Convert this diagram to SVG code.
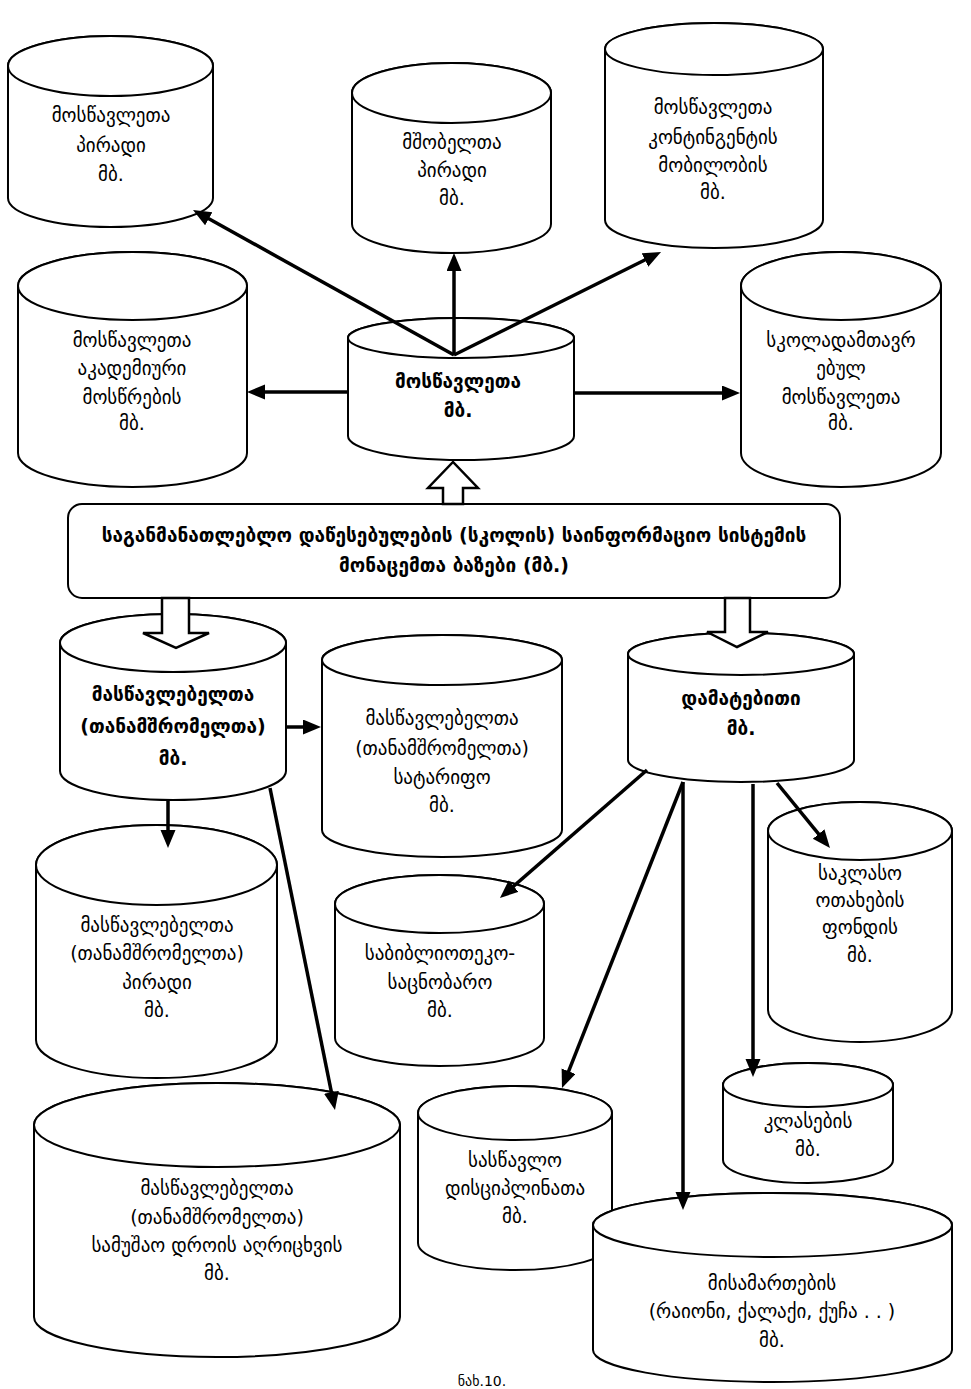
<svg xmlns="http://www.w3.org/2000/svg" width="971" height="1389" viewBox="0 0 971 1389">
<style>
.cyl{fill:#fff;stroke:#000;stroke-width:2}
.t{font-family:"DejaVu Sans","Noto Sans",sans-serif;font-size:19px;fill:#000;text-anchor:middle}
.b{font-weight:bold}
.cap{font-size:14px}
.con{stroke:#000;stroke-width:3.5;fill:none;marker-end:url(#ah)}
.hol{fill:#fff;stroke:#000;stroke-width:2.5;stroke-linejoin:miter}
</style>
<defs>
<marker id="ah" markerUnits="userSpaceOnUse" markerWidth="20" markerHeight="16" refX="6" refY="7.5" orient="auto">
<path d="M0,0 L18,7.5 L0,15 Z" fill="#000"/>
</marker>
</defs>
<rect width="971" height="1389" fill="#fff"/>
<g id="c_mosw_pir"><path class="cyl" d="M8,66 A102.5,30 0 0 1 213,66 L213,198 A102.5,29 0 0 1 8,198 Z"/><ellipse class="cyl" cx="110.5" cy="66" rx="102.5" ry="30"/>
<text class="t" x="111" y="122">მოსწავლეთა</text><text class="t" x="111" y="152">პირადი</text><text class="t" x="111" y="181">მბ.</text></g>
<g id="c_mshob"><path class="cyl" d="M352,93 A99.5,30 0 0 1 551,93 L551,224 A99.5,29 0 0 1 352,224 Z"/><ellipse class="cyl" cx="451.5" cy="93" rx="99.5" ry="30"/>
<text class="t" x="452" y="149">მშობელთა</text><text class="t" x="452" y="177">პირადი</text><text class="t" x="452" y="205">მბ.</text></g>
<g id="c_kont"><path class="cyl" d="M605,49 A109,26 0 0 1 823,49 L823,220 A109,28 0 0 1 605,220 Z"/><ellipse class="cyl" cx="714" cy="49" rx="109" ry="26"/>
<text class="t" x="713" y="114">მოსწავლეთა</text><text class="t" x="713" y="144">კონტინგენტის</text><text class="t" x="713" y="172">მობილობის</text><text class="t" x="713" y="199">მბ.</text></g>
<g id="c_akad"><path class="cyl" d="M18,286 A114.5,34 0 0 1 247,286 L247,453 A114.5,34 0 0 1 18,453 Z"/><ellipse class="cyl" cx="132.5" cy="286" rx="114.5" ry="34"/>
<text class="t" x="132" y="347">მოსწავლეთა</text><text class="t" x="132" y="375">აკადემიური</text><text class="t" x="132" y="404">მოსწრების</text><text class="t" x="132" y="430">მბ.</text></g>
<g id="c_center"><path class="cyl" d="M348,338 A113,20 0 0 1 574,338 L574,436 A113,24 0 0 1 348,436 Z"/><ellipse class="cyl" cx="461" cy="338" rx="113" ry="20"/>
<text class="t b" x="458" y="388">მოსწავლეთა</text><text class="t b" x="458" y="417">მბ.</text></g>
<g id="c_skola"><path class="cyl" d="M741,286 A100,34 0 0 1 941,286 L941,453 A100,34 0 0 1 741,453 Z"/><ellipse class="cyl" cx="841" cy="286" rx="100" ry="34"/>
<text class="t" x="841" y="347">სკოლადამთავრ</text><text class="t" x="841" y="375">ებულ</text><text class="t" x="841" y="404">მოსწავლეთა</text><text class="t" x="841" y="430">მბ.</text></g>
<g id="main_box"><rect x="68" y="504" width="772" height="94" rx="14" ry="14" fill="#fff" stroke="#000" stroke-width="2"/>
<text class="t b" x="454" y="542">საგანმანათლებლო დაწესებულების (სკოლის) საინფორმაციო სისტემის</text><text class="t b" x="454" y="572">მონაცემთა ბაზები (მბ.)</text></g>
<g id="c_masw"><path class="cyl" d="M60,643 A113,29 0 0 1 286,643 L286,771 A113,29 0 0 1 60,771 Z"/><ellipse class="cyl" cx="173" cy="643" rx="113" ry="29"/>
<text class="t b" x="173" y="701">მასწავლებელთა</text><text class="t b" x="173" y="733">(თანამშრომელთა)</text><text class="t b" x="173" y="765">მბ.</text></g>
<g id="c_tarif"><path class="cyl" d="M322,660 A120,25 0 0 1 562,660 L562,830 A120,27 0 0 1 322,830 Z"/><ellipse class="cyl" cx="442" cy="660" rx="120" ry="25"/>
<text class="t" x="442" y="725">მასწავლებელთა</text><text class="t" x="442" y="755">(თანამშრომელთა)</text><text class="t" x="442" y="784">სატარიფო</text><text class="t" x="442" y="812">მბ.</text></g>
<g id="c_damat"><path class="cyl" d="M628,654 A113,21 0 0 1 854,654 L854,760 A113,22 0 0 1 628,760 Z"/><ellipse class="cyl" cx="741" cy="654" rx="113" ry="21"/>
<text class="t b" x="741" y="705">დამატებითი</text><text class="t b" x="741" y="735">მბ.</text></g>
<g id="c_pir2"><path class="cyl" d="M36,865 A120.5,40 0 0 1 277,865 L277,1040 A120.5,38 0 0 1 36,1040 Z"/><ellipse class="cyl" cx="156.5" cy="865" rx="120.5" ry="40"/>
<text class="t" x="157" y="932">მასწავლებელთა</text><text class="t" x="157" y="960">(თანამშრომელთა)</text><text class="t" x="157" y="989">პირადი</text><text class="t" x="157" y="1017">მბ.</text></g>
<g id="c_bibl"><path class="cyl" d="M335,904 A104.5,29 0 0 1 544,904 L544,1038 A104.5,28 0 0 1 335,1038 Z"/><ellipse class="cyl" cx="439.5" cy="904" rx="104.5" ry="29"/>
<text class="t" x="440" y="960">საბიბლიოთეკო-</text><text class="t" x="440" y="989">საცნობარო</text><text class="t" x="440" y="1017">მბ.</text></g>
<g id="c_sakl"><path class="cyl" d="M768,831 A92,29 0 0 1 952,831 L952,1010 A92,32 0 0 1 768,1010 Z"/><ellipse class="cyl" cx="860" cy="831" rx="92" ry="29"/>
<text class="t" x="860" y="880">საკლასო</text><text class="t" x="860" y="907">ოთახების</text><text class="t" x="860" y="934">ფონდის</text><text class="t" x="860" y="962">მბ.</text></g>
<g id="c_droos"><path class="cyl" d="M34,1125 A183,42 0 0 1 400,1125 L400,1317 A183,40 0 0 1 34,1317 Z"/><ellipse class="cyl" cx="217" cy="1125" rx="183" ry="42"/>
<text class="t" x="217" y="1195">მასწავლებელთა</text><text class="t" x="217" y="1224">(თანამშრომელთა)</text><text class="t" x="217" y="1252">სამუშაო დროის აღრიცხვის</text><text class="t" x="217" y="1280">მბ.</text></g>
<g id="c_disc"><path class="cyl" d="M418,1113 A97,27 0 0 1 612,1113 L612,1243 A97,27 0 0 1 418,1243 Z"/><ellipse class="cyl" cx="515" cy="1113" rx="97" ry="27"/>
<text class="t" x="515" y="1167">სასწავლო</text><text class="t" x="515" y="1195">დისციპლინათა</text><text class="t" x="515" y="1223">მბ.</text></g>
<g id="c_klas"><path class="cyl" d="M723,1085 A85,22 0 0 1 893,1085 L893,1160 A85,23 0 0 1 723,1160 Z"/><ellipse class="cyl" cx="808" cy="1085" rx="85" ry="22"/>
<text class="t" x="808" y="1128">კლასების</text><text class="t" x="808" y="1156">მბ.</text></g>
<g id="c_misam"><path class="cyl" d="M593,1225 A179.5,32 0 0 1 952,1225 L952,1350 A179.5,32 0 0 1 593,1350 Z"/><ellipse class="cyl" cx="772.5" cy="1225" rx="179.5" ry="32"/>
<text class="t" x="772" y="1290">მისამართების</text><text class="t" x="772" y="1318">(რაიონი, ქალაქი, ქუჩა . . )</text><text class="t" x="772" y="1347">მბ.</text></g>
<g id="connectors">
<line class="con" x1="454" y1="355" x2="203.5" y2="215.8"/>
<line class="con" x1="454" y1="355" x2="454" y2="265"/>
<line class="con" x1="454" y1="355" x2="650.3" y2="257.3"/>
<line class="con" x1="348" y1="392" x2="259" y2="392"/>
<line class="con" x1="574" y1="393" x2="728" y2="393"/>
<line class="con" x1="286" y1="727" x2="309" y2="727"/>
<line class="con" x1="168" y1="800" x2="168" y2="836"/>
<line class="con" x1="270" y1="788" x2="332.6" y2="1098.2"/>
<line class="con" x1="647" y1="770" x2="509" y2="890.1"/>
<line class="con" x1="683" y1="782" x2="566.4" y2="1076.8"/>
<line class="con" x1="683" y1="782" x2="683" y2="1198"/>
<line class="con" x1="753" y1="784" x2="753" y2="1065"/>
<line class="con" x1="777" y1="783" x2="822.4" y2="838.7"/>
<polygon class="hol" points="443,504 443,488 428,488 453,462 478,488 463,488 463,504"/>
<polygon class="hol" points="162,598 162,633 143,633 176,648 209,633 189,633 189,598"/>
<polygon class="hol" points="725,598 725,632 707,632 737,647 768,632 750,632 750,598"/>
</g>
<text class="t cap" x="482" y="1386">ნახ.10.</text>
</svg>
